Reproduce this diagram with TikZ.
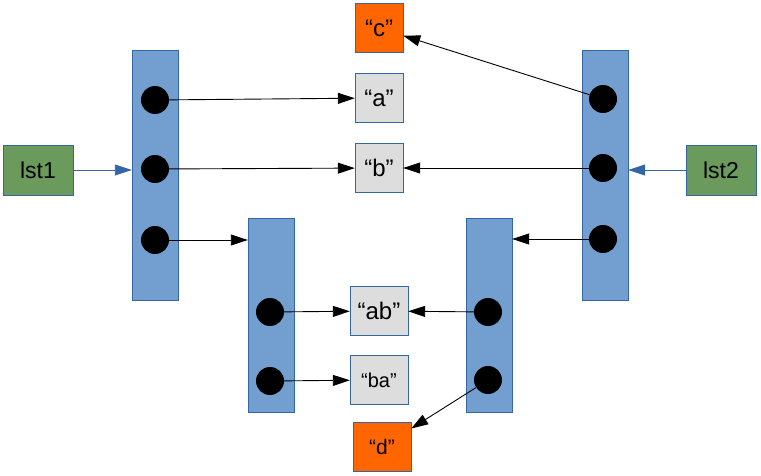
\documentclass[tikz,border=0pt]{standalone}
\usepackage{fontspec}
\setmainfont{Liberation Sans}
\usetikzlibrary{arrows.meta}
\definecolor{cellblue}{HTML}{729FCF}
\definecolor{edgeblue}{HTML}{3465A4}
\definecolor{strgray}{HTML}{DDDDDD}
\definecolor{strorange}{HTML}{FF6600}
\definecolor{namegreen}{HTML}{6A9A5C}
\tikzset{x=1pt,y=-1pt,
    listbar/.style={draw=edgeblue,fill=cellblue,minimum width=46pt,inner sep=0pt},
    ptr/.style={circle,fill=black,minimum size=28pt,inner sep=0pt},
    strbox/.style={draw=edgeblue,fill=strgray,minimum height=49pt,inner sep=0pt,
        font=\fontsize{24}{28}\selectfont},
    newstr/.style={strbox,fill=strorange},
    varbox/.style={draw=edgeblue,fill=namegreen,minimum width=70pt,minimum height=50pt,
        inner sep=0pt,font=\fontsize{23}{27}\selectfont},
    link/.style={-{Triangle[length=17pt,width=11pt]},black,line width=0.9pt},
    varlink/.style={link,edgeblue},
    }
\begin{document}
\begin{tikzpicture}
\useasboundingbox (0,0) rectangle (761,476);
% variables
\node[varbox] (lst1) at (38,170) {lst1};
\node[varbox] (lst2) at (721,170) {lst2};
% lists
\node[listbar,minimum height=250pt] (lbar) at (155,175) {};
\node[listbar,minimum height=250pt] (rbar) at (605,175) {};
\node[listbar,minimum height=194pt] (mlbar) at (271,315) {};
\node[listbar,minimum height=194pt] (mrbar) at (489,315) {};
\foreach \n/\y in {1/100,2/169,3/240}{
    \node[ptr] (l\n) at (155,\y) {};
    \node[ptr] (r\n) at (603,\y-1) {};
}
\node[ptr] (ml1) at (270,312) {};
\node[ptr] (ml2) at (270,381) {};
\node[ptr] (mr1) at (488,312) {};
\node[ptr] (mr2) at (488,380) {};
% strings
\node[newstr,minimum width=48pt] (c) at (379,28) {“c”};
\node[strbox,minimum width=48pt] (a) at (379,98) {“a”};
\node[strbox,minimum width=48pt] (b) at (379,168) {“b”};
\node[strbox,minimum width=58pt] (ab) at (379,311) {“ab”};
\node[strbox,minimum width=58pt,font=\fontsize{20}{24}\selectfont] (ba) at (379,380) {“ba”};
\node[newstr,minimum width=58pt,font=\fontsize{21}{25}\selectfont] (d) at (382,447) {“d”};
% references
\draw[varlink] (lst1) -- (lst1 -| lbar.west);
\draw[varlink] (lst2) -- (lst2 -| rbar.east);
\draw[link] (l1) -- (a);
\draw[link] (l2) -- (b);
\draw[link] (l3) -- (l3 -| mlbar.west);
\draw[link] (r1) -- (c);
\draw[link] (r2) -- (b);
\draw[link] (r3) -- (r3 -| mrbar.east);
\draw[link] (ml1) -- (ab);
\draw[link] (ml2) -- (ba);
\draw[link] (mr1) -- (ab);
\draw[link] (mr2) -- (d);
\end{tikzpicture}
\end{document}
